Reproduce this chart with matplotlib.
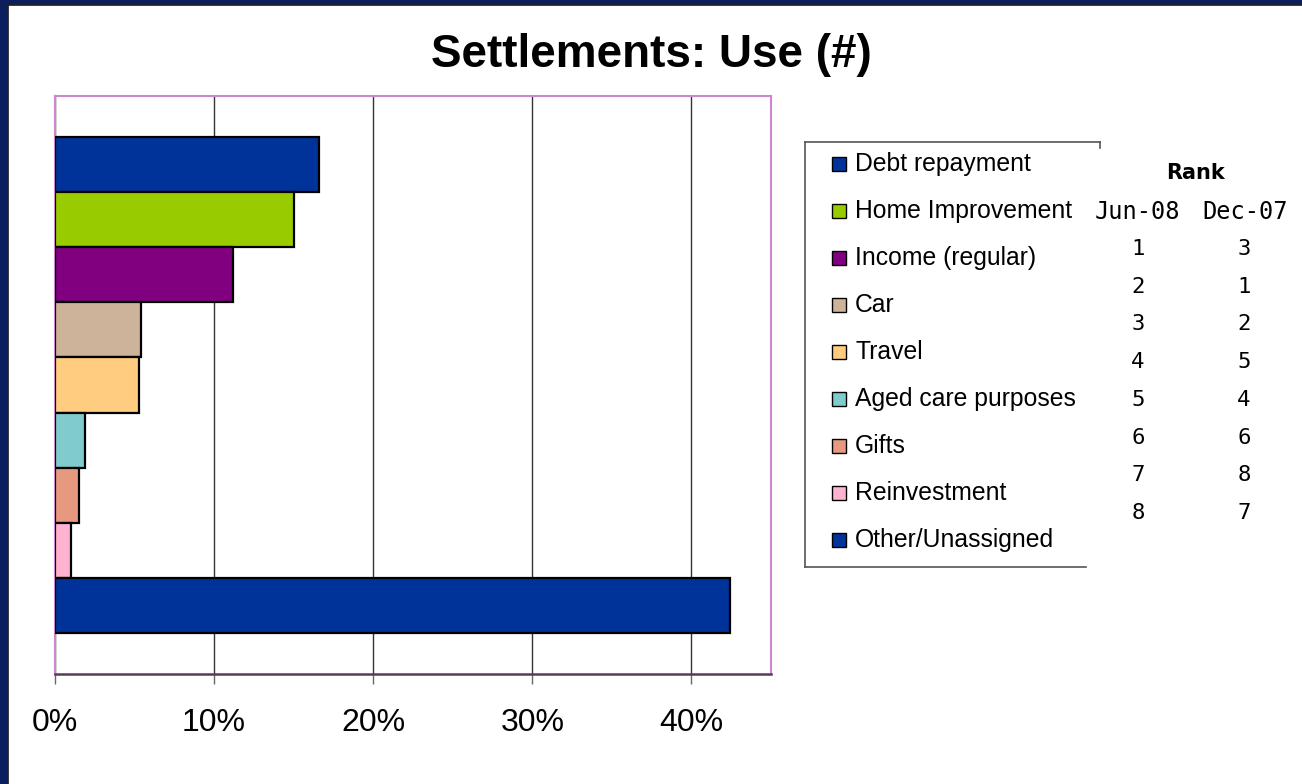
import numpy as np
import matplotlib
matplotlib.use("Agg")
import matplotlib.pyplot as plt
from matplotlib.patches import Rectangle
from matplotlib.lines import Line2D

# =========================
# DATA
# =========================
categories = [
    "Debt repayment",
    "Home Improvement",
    "Income (regular)",
    "Car",
    "Travel",
    "Aged care purposes",
    "Gifts",
    "Reinvestment",
    "Other/Unassigned",
]
shares = [16.6, 15.0, 11.2, 5.4, 5.25, 1.9, 1.5, 1.0, 42.4]
colors = [
    "#003399", "#99cc00", "#800080", "#ccb399", "#ffcc80",
    "#80cccc", "#e6997f", "#ffb3d1", "#003399",
]

rank_jun08 = [1, 2, 3, 4, 5, 6, 7, 8]
rank_dec07 = [3, 1, 2, 5, 4, 6, 8, 7]
x_ticks = [0, 10, 20, 30, 40]

# =========================
# FIGURE SETUP (pixel helpers)
# =========================
W, H = 1302, 784
fig = plt.figure(figsize=(W / 100, H / 100), dpi=100)
fig.patch.set_facecolor("white")


def fx(x):
    return x / W


def fy(y):
    return 1 - y / H


# navy frame along top and left edge
fig.patches.append(Rectangle((0, fy(4)), 1, 4 / H, transform=fig.transFigure,
                             color="#0b1f5e", zorder=0))
fig.patches.append(Rectangle((0, 0), 7 / W, 1, transform=fig.transFigure,
                             color="#0b1f5e", zorder=0))
fig.lines.append(Line2D([fx(7), 1], [fy(4.5), fy(4.5)], transform=fig.transFigure,
                        color="#222222", lw=1.2))
fig.lines.append(Line2D([fx(7.5), fx(7.5)], [0, fy(4)], transform=fig.transFigure,
                        color="#222222", lw=1.2))

# =========================
# BAR CHART
# =========================
ax_l, ax_t, ax_r, ax_b = 55, 96, 771, 674
ax = fig.add_axes([fx(ax_l), fy(ax_b), (ax_r - ax_l) / W, (ax_b - ax_t) / H])

y_pos = np.arange(len(categories))
ax.barh(y_pos, shares, height=1.0, color=colors, edgecolor="black",
        linewidth=1.6, zorder=3)

ax.set_xlim(0, 45)
ax.set_ylim(len(categories) + 0.25, -1.25)
ax.set_xticks(x_ticks)
ax.set_xticklabels([f"{t}%" for t in x_ticks],
                   fontsize=23, family=["Liberation Sans", "DejaVu Sans"])
ax.set_yticks([])
ax.tick_params(axis="x", length=7.5, width=1, color="#666666", pad=17)
ax.grid(axis="x", color="#333333", linewidth=1, zorder=1)

for side in ["top", "left", "right"]:
    ax.spines[side].set_color("#cc88cc")
    ax.spines[side].set_linewidth(1.5)
ax.spines["bottom"].set_color("#5a3a5a")
ax.spines["bottom"].set_linewidth(1.8)

# =========================
# TITLE
# =========================
fig.text(fx(651), fy(55), "Settlements: Use (#)", ha="center", va="center",
         fontsize=33, fontweight="bold", family=["Liberation Sans", "DejaVu Sans"])

# =========================
# LEGEND (drawn by hand, right edge hidden by rank table)
# =========================
frame_kw = dict(transform=fig.transFigure, color="#555555", lw=1.2)
fig.lines.append(Line2D([fx(805), fx(805)], [fy(142), fy(567)], **frame_kw))
fig.lines.append(Line2D([fx(805), fx(1100)], [fy(142), fy(142)], **frame_kw))
fig.lines.append(Line2D([fx(1100), fx(1100)], [fy(142), fy(148)], **frame_kw))
fig.lines.append(Line2D([fx(805), fx(1086)], [fy(567), fy(567)], **frame_kw))

leg_top, leg_step = 164, 47
for i, (name, col) in enumerate(zip(categories, colors)):
    yc = leg_top + i * leg_step
    fig.patches.append(Rectangle((fx(832), fy(yc + 7)), 14 / W, 14 / H,
                                 transform=fig.transFigure, facecolor=col,
                                 edgecolor="black", lw=1))
    fig.text(fx(855), fy(yc), name, ha="left", va="center", fontsize=17.8,
             family=["Liberation Sans", "DejaVu Sans"])

# =========================
# RANK TABLE
# =========================
fig.text(fx(1195), fy(173), "Rank", ha="center", va="center", fontsize=15,
         fontweight="bold", family="DejaVu Sans")
fig.text(fx(1137), fy(212), "Jun-08", ha="center", va="center", fontsize=17,
         family="DejaVu Sans Mono")
fig.text(fx(1245), fy(212), "Dec-07", ha="center", va="center", fontsize=17,
         family="DejaVu Sans Mono")

row_top, row_step = 249, 37.7
for i, (a, b) in enumerate(zip(rank_jun08, rank_dec07)):
    yc = row_top + i * row_step
    fig.text(fx(1138), fy(yc), str(a), ha="center", va="center", fontsize=16,
             family="DejaVu Sans Mono")
    fig.text(fx(1244), fy(yc), str(b), ha="center", va="center", fontsize=16,
             family="DejaVu Sans Mono")

fig.savefig("out.png", dpi=100, facecolor=fig.get_facecolor())
plt.close(fig)
